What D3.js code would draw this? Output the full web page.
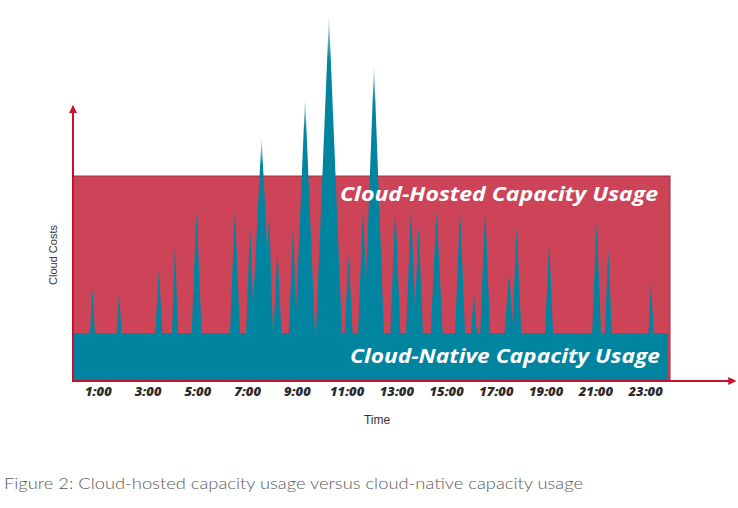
<!DOCTYPE html>
<html><head><meta charset="utf-8">
<script src="https://cdn.jsdelivr.net/npm/d3@7/dist/d3.min.js"></script>
<style>
html,body{margin:0;padding:0;background:#fff;}
svg{display:block;}
</style></head>
<body>
<svg id="chart" width="738" height="508"></svg>
<script>
// ---- data ----
const hourTicks = [1,3,5,7,9,11,13,15,17,19,21,23];
const tickLabels = hourTicks.map(h => h + ":00");
const nativeLevel = 13.1;   // cloud-native baseline cost
const hostedLevel = 56;     // cloud-hosted provisioned cost
// spike centre (hour), spike peak (cost), spike duration (hours)
const spikeTime = [0.78,1.85,3.45,4.10,4.97,6.51,7.12,7.58,7.88,8.22,8.84,9.33,10.29,11.08,11.66,12.10,12.96,13.59,13.89,14.62,15.56,16.12,16.57,17.53,17.84,19.14,21.05,21.52,23.24];
const spikePeak = [25.7,24.3,30.9,37.7,47.3,47.5,42.9,66.7,46.7,36.3,42.6,77.6,100,35.2,47.3,86.6,48.1,47.8,43.2,47.3,47.5,24.0,47.5,29.8,43.2,38.3,44.0,36.6,27.9];
const spikeDur  = [0.2,0.2,0.28,0.24,0.4,0.4,0.32,0.8,0.32,0.32,0.32,0.8,1.05,0.32,0.4,0.8,0.4,0.4,0.36,0.48,0.4,0.24,0.4,0.36,0.36,0.32,0.36,0.28,0.2];

const RED = "#cd4459", TEAL = "#00849f", AXIS = "#c8102e";

const svg = d3.select("#chart");
const x = d3.scaleLinear().domain([0,24]).range([73,670]);
const y = d3.scaleLinear().domain([0,100]).range([381,15]);

const defs = svg.append("defs");
const g = defs.append("linearGradient").attr("id","fade").attr("x1",0).attr("y1",0).attr("x2",0).attr("y2",1);
g.append("stop").attr("offset","0").attr("stop-color",TEAL).attr("stop-opacity",0.15);
g.append("stop").attr("offset","0.14").attr("stop-color",TEAL).attr("stop-opacity",1);
g.append("stop").attr("offset","1").attr("stop-color",TEAL).attr("stop-opacity",1);

// hosted capacity rectangle
svg.append("rect")
  .attr("x", x(0)).attr("y", y(hostedLevel))
  .attr("width", x(24)-x(0)).attr("height", y(0)-y(hostedLevel))
  .attr("fill", RED).attr("stroke","#9c2a3a").attr("stroke-width",1);

// spikes
const spikes = spikeTime.map((t,i)=>({t, p: spikePeak[i], d: spikeDur[i]}));
svg.append("g").selectAll("path").data(spikes).join("path")
  .attr("d", s => `M${x(s.t - s.d/2)},${y(nativeLevel)+0.5}L${x(s.t)},${y(s.p)}L${x(s.t + s.d/2)},${y(nativeLevel)+0.5}Z`)
  .attr("fill","url(#fade)");

// native capacity band
svg.append("rect")
  .attr("x", x(0)).attr("y", y(nativeLevel))
  .attr("width", x(23.92)-x(0)).attr("height", y(0)-y(nativeLevel))
  .attr("fill", TEAL);

// area labels
const lblFont = "'Open Sans', 'DejaVu Sans', sans-serif";
svg.append("text").text("Cloud-Hosted Capacity Usage")
  .attr("x", 340).attr("y", 201)
  .attr("textLength", 318).attr("lengthAdjust","spacingAndGlyphs")
  .style("font-family", lblFont).style("font-weight", 700).style("font-style","italic")
  .style("font-size","20px").attr("fill","#fff");
svg.append("text").text("Cloud-Native Capacity Usage")
  .attr("x", 350).attr("y", 363)
  .attr("textLength", 310).attr("lengthAdjust","spacingAndGlyphs")
  .style("font-family", lblFont).style("font-weight", 700).style("font-style","italic")
  .style("font-size","20px").attr("fill","#fff");

// axes with arrows
defs.append("marker").attr("id","arrow").attr("viewBox","0 0 10 10")
  .attr("refX",8).attr("refY",5).attr("markerWidth",4).attr("markerHeight",4)
  .attr("orient","auto").attr("markerUnits","strokeWidth")
  .append("path").attr("d","M0,0L10,5L0,10Z").attr("fill",AXIS);
svg.append("line").attr("x1",x(0)).attr("y1",y(0)).attr("x2",x(0)).attr("y2",y(75))
  .attr("stroke",AXIS).attr("stroke-width",2).attr("marker-end","url(#arrow)");
svg.append("line").attr("x1",x(0)-1).attr("y1",y(0)).attr("x2",x(26.6)).attr("y2",y(0))
  .attr("stroke",AXIS).attr("stroke-width",2).attr("marker-end","url(#arrow)");

// x tick labels
const xAxis = d3.axisBottom(x).tickValues(hourTicks).tickFormat((d,i)=>tickLabels[i]).tickSize(0).tickPadding(6);
const ax = svg.append("g").attr("transform",`translate(0,${y(0)})`).call(xAxis);
ax.select(".domain").remove();
ax.selectAll("text")
  .style("font-family", lblFont).style("font-weight",800).style("font-style","italic")
  .style("font-size","13px").attr("fill","#2b2b2b");

// axis titles
svg.append("text").text("Time").attr("x",377).attr("y",424).attr("text-anchor","middle")
  .style("font-family","'Liberation Sans Narrow','Liberation Sans',sans-serif").style("font-size","12px").attr("fill","#333");
svg.append("text").text("Cloud Costs").attr("transform","translate(57,255) rotate(-90)").attr("text-anchor","middle")
  .style("font-family","'Liberation Sans',Arial,sans-serif").style("font-size","11px").attr("fill","#333");

// caption
svg.append("text").text("Figure 2: Cloud-hosted capacity usage versus cloud-native capacity usage")
  .attr("x",4).attr("y",489).attr("textLength",579).attr("lengthAdjust","spacingAndGlyphs")
  .style("font-family","Lato,'Open Sans',sans-serif").style("font-weight",300).style("font-size","15px").attr("fill","#5a5a5a");
</script>
</body></html>
